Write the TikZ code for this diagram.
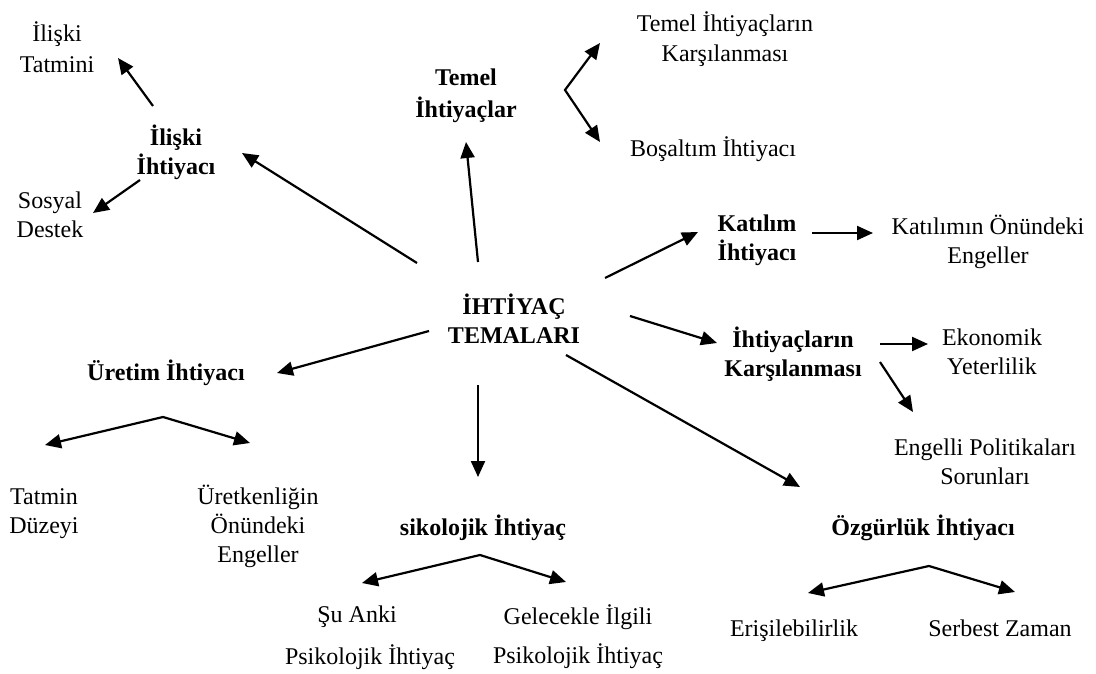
\documentclass[tikz,border=0pt]{standalone}
\usepackage{fontspec}
\setmainfont{Liberation Serif}
\usetikzlibrary{arrows.meta}

\tikzset{
  txt/.style={align=center, inner sep=0pt, font=\fontsize{24}{29}\selectfont},
  head/.style={txt, font=\fontsize{24}{29}\selectfont\bfseries},
  arr/.style={line width=2.2pt, -{Triangle[length=16pt,width=14pt]}},
  fork/.style={line width=2.2pt, {Triangle[length=16pt,width=14pt]}-{Triangle[length=16pt,width=14pt]}}
}

\begin{document}
\begin{tikzpicture}[x=1pt, y=-1pt]
  \useasboundingbox (0,0) rectangle (1096,674);

  \node[head] (tema) at (514,319) {İHTİYAÇ\\TEMALARI};

  \node[head] (iliski) at (176,152) {İlişki\\İhtiyacı};
  \node[txt] (tatmini) at (57,47) {İlişki\\[2pt]Tatmini};
  \node[txt] (sosyal) at (50,215) {Sosyal\\Destek};

  \node[head] (temel) at (466,96) {Temel\\[3pt]İhtiyaçlar};
  \node[txt] (temelkars) at (725,39) {Temel İhtiyaçların\\[1pt]Karşılanması};
  \node[txt] (bosaltim) at (713,149) {Boşaltım İhtiyacı};

  \node[head] (katilim) at (757,240) {Katılım\\İhtiyacı};
  \node[txt] (katengel) at (988,242) {Katılımın Önündeki\\Engeller};

  \node[head] (ihtkars) at (793,354) {İhtiyaçların\\Karşılanması};
  \node[txt] (ekonomik) at (992,352) {Ekonomik\\Yeterlilik};
  \node[txt] (engelli) at (985,462) {Engelli Politikaları\\Sorunları};

  \node[head] (ozgur) at (923,528) {Özgürlük İhtiyacı};
  \node[txt] (erisim) at (794,631) {Erişilebilirlik};
  \node[txt] (serbest) at (1000,628) {Serbest Zaman};

  \node[head] (uretim) at (166,373) {Üretim İhtiyacı};
  \node[txt] (tatmin) at (44,514) {Tatmin\\Düzeyi};
  \node[txt] (uretken) at (258,526) {Üretkenliğin\\Önündeki\\Engeller};

  \node[head] (sikolojik) at (483,528) {sikolojik İhtiyaç};
  \node[txt] (suanki) at (357,617) {Şu Anki};
  \node[txt] (suankipsi) at (370,657) {Psikolojik İhtiyaç};
  \node[txt] (gelecek) at (578,637) {Gelecekle İlgili\\[10pt]Psikolojik İhtiyaç};

  % arrow ends
  \coordinate (t-il) at (417,263);  \coordinate (h-il) at (242,153);
  \coordinate (t-te) at (478,262);  \coordinate (h-te) at (466,142);
  \coordinate (t-ka) at (605,278);  \coordinate (h-ka) at (698,232);
  \coordinate (t-ih) at (630,316);  \coordinate (h-ih) at (717,343);
  \coordinate (t-oz) at (566,355);  \coordinate (h-oz) at (800,487);
  \coordinate (t-si) at (478,385);  \coordinate (h-si) at (478,477);
  \coordinate (t-ur) at (429,331);  \coordinate (h-ur) at (277,373);

  \coordinate (t-tm) at (153,106);  \coordinate (h-tm) at (118,58);
  \coordinate (t-so) at (140,180);  \coordinate (h-so) at (93,213);
  \coordinate (t-ke) at (812,233);  \coordinate (h-ke) at (873,233);
  \coordinate (t-ek) at (880,344);  \coordinate (h-ek) at (928,344);
  \coordinate (t-en) at (880,362);  \coordinate (h-en) at (913,412);

  % forks
  \coordinate (v-te) at (565,90);
  \coordinate (v-oz) at (929,566);
  \coordinate (v-ur) at (163,417);
  \coordinate (v-si) at (480,555);

  % arrows out of the centre
  \draw[arr] (t-il) -- (h-il);
  \draw[arr] (t-te) -- (h-te);
  \draw[arr] (t-ka) -- (h-ka);
  \draw[arr] (t-ih) -- (h-ih);
  \draw[arr] (t-oz) -- (h-oz);
  \draw[arr] (t-si) -- (h-si);
  \draw[arr] (t-ur) -- (h-ur);

  % second level
  \draw[arr] (t-tm) -- (h-tm);
  \draw[arr] (t-so) -- (h-so);
  \draw[arr] (t-ke) -- (h-ke);
  \draw[arr] (t-ek) -- (h-ek);
  \draw[arr] (t-en) -- (h-en);
  \draw[fork] (600,43) -- (v-te) -- (600,142);
  \draw[fork] (808,593) -- (v-oz) -- (1015,592);
  \draw[fork] (45,445) -- (v-ur) -- (250,443);
  \draw[fork] (362,583) -- (v-si) -- (566,582);
\end{tikzpicture}
\end{document}
